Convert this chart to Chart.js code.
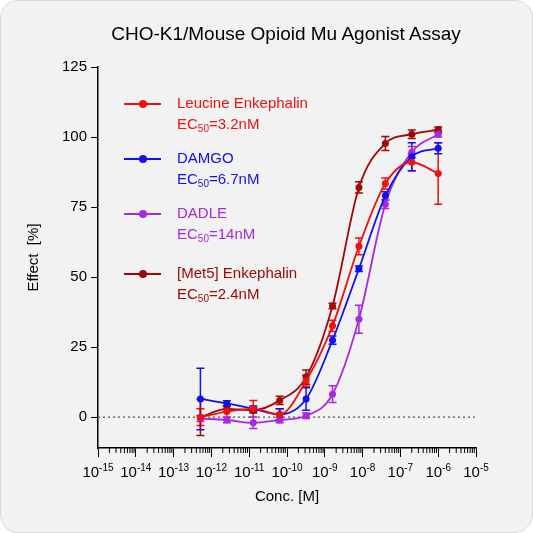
<!DOCTYPE html>
<html><head><meta charset="utf-8">
<script src="https://cdn.jsdelivr.net/npm/chart.js@4"></script>
<style>
body{margin:0;background:#fff;font-family:"Liberation Sans",Arial,sans-serif}
#card{position:absolute;left:0;top:0;width:531px;height:531px;border:1px solid #d8d8d8;border-radius:18px;background:#f2f2f2;overflow:hidden}
#title{position:absolute;left:60px;width:450px;top:22px;text-align:center;font-size:19px;color:#000}
.lg{position:absolute;left:123px;font-size:15px;line-height:21px}
.lg .mk{position:absolute;left:0;width:37px;height:2px}
.lg .mk i{position:absolute;left:15px;top:-3px;width:8px;height:8px;border-radius:50%}
.lg .tx{position:absolute;left:53px;top:-11px;white-space:nowrap}
sub{font-size:10px;vertical-align:-3px}
.xt{position:absolute;top:462px;font-size:15px;white-space:nowrap;transform:translateX(-50%)}
.xt sup{font-size:10px;vertical-align:6px;line-height:0}
</style></head><body>
<div id="card">
<canvas id="c" width="531" height="531"></canvas>
<div id="title">CHO-K1/Mouse Opioid Mu Agonist Assay</div>
<div id="legend"></div>
<div id="xticks"></div>
</div>
<script>
// 5-fold dilution series (M)
const conc = [5.12e-13, 2.56e-12, 1.28e-11, 6.4e-11, 3.2e-10, 1.6e-9, 8e-9, 4e-8, 2e-7, 1e-6];
const names = ["Leucine Enkephalin", "DAMGO", "DADLE", "[Met5] Enkephalin"];
const ec50Labels = ["3.2nM", "6.7nM", "14nM", "2.4nM"];
const colors = ["#f01010", "#1010f0", "#a828e0", "#a00808"];
const leu = [0, 2, 3, 1, 13, 32.6, 61, 83.4, 91, 87];
const leuErr = [3, 2, 3, 2, 2, 2, 3, 2, 3, 11];
const damgo = [6.5, 4.9, 3, 1, 6.5, 27.5, 53, 79, 93, 96];
const damgoErr = [11, 1, 1, 2, 4, 1.5, 1, 1.5, 5, 2];
const dadle = [-0.5, -1, -2, -1, 0.5, 8.2, 35, 76, 94.6, 101];
const dadleErr = [1, 1, 2, 1, 1, 3, 5, 1.5, 2, 1];
const met5 = [0, 3, 2.5, 6, 14.3, 39.7, 82, 97.7, 101, 102.6];
const met5Err = [6.5, 1, 1, 1.5, 2.5, 1, 2, 2.5, 1.5, 1];
const yTicks = [0, 25, 50, 75, 100, 125];
const xDecades = [-15, -14, -13, -12, -11, -10, -9, -8, -7, -6, -5];
const legendY = [102, 157, 212, 272];

const series = [leu, damgo, dadle, met5];
const errs = [leuErr, damgoErr, dadleErr, met5Err];
const logx = conc.map(Math.log10);

const lg = document.getElementById("legend");
names.forEach((n, i) => {
  const d = document.createElement("div");
  d.className = "lg"; d.style.top = legendY[i] + "px"; d.style.color = colors[i];
  d.innerHTML = `<div class="mk" style="background:${colors[i]}"><i style="background:${colors[i]}"></i></div>` +
    `<div class="tx">${n}<br>EC<sub>50</sub>=${ec50Labels[i]}</div>`;
  lg.appendChild(d);
});

const datasets = [];
series.forEach((s, i) => {
  datasets.push({
    data: s.map((v, k) => ({x: logx[k], y: v})),
    borderColor: colors[i], backgroundColor: colors[i], borderWidth: 1.8,
    pointRadius: 3.5, pointBorderWidth: 0, cubicInterpolationMode: "monotone",
    errs: errs[i]
  });
});

const extras = {
  id: "extras",
  beforeDatasetsDraw(chart) {
    const {ctx, scales: {x, y}} = chart;
    ctx.save();
    ctx.strokeStyle = "#555"; ctx.lineWidth = 1.2; ctx.setLineDash([2, 3]);
    ctx.beginPath(); ctx.moveTo(chart.chartArea.left, y.getPixelForValue(0));
    ctx.lineTo(x.getPixelForValue(-5), y.getPixelForValue(0)); ctx.stroke();
    ctx.setLineDash([]);
    ctx.strokeStyle = "#000"; ctx.lineWidth = 1;
    const y0 = x.top;
    for (let n = -15; n < -5; n++) for (let k = 2; k <= 9; k++) {
      const px = x.getPixelForValue(n + Math.log10(k));
      ctx.beginPath(); ctx.moveTo(px, y0); ctx.lineTo(px, y0 + 5); ctx.stroke();
    }
    chart.data.datasets.forEach(ds => {
      ctx.strokeStyle = ds.borderColor; ctx.lineWidth = 1.5;
      ds.data.forEach((p, k) => {
        const e = ds.errs[k], px = x.getPixelForValue(p.x);
        const a = y.getPixelForValue(p.y + e), b = y.getPixelForValue(p.y - e);
        ctx.beginPath(); ctx.moveTo(px, a); ctx.lineTo(px, b);
        ctx.moveTo(px - 4, a); ctx.lineTo(px + 4, a);
        ctx.moveTo(px - 4, b); ctx.lineTo(px + 4, b); ctx.stroke();
      });
    });
    ctx.restore();
  }
};

const chart = new Chart(document.getElementById("c"), {
  type: "line",
  data: {datasets},
  plugins: [extras],
  options: {
    responsive: false, animation: false,
    layout: {padding: {top: 66, right: 56, left: 22, bottom: 26}},
    plugins: {legend: {display: false}, tooltip: {enabled: false}},
    scales: {
      x: {
        type: "linear", min: -15, max: -5,
        afterBuildTicks: s => { s.ticks = xDecades.map(v => ({value: v})); },
        afterFit: s => { s.height = 58; },
        ticks: {display: false},
        grid: {drawOnChartArea: false, tickLength: 9, color: "#000"},
        border: {color: "#000", width: 1.5},
        title: {display: true, text: "Conc. [M]", color: "#000", font: {size: 15, family: "Liberation Sans"}, padding: 0}
      },
      y: {
        min: -11, max: 125,
        afterBuildTicks: s => { s.ticks = yTicks.map(v => ({value: v})); },
        afterFit: s => { s.width = 75; },
        ticks: {color: "#000", font: {size: 15, family: "Liberation Sans"}, padding: 4},
        grid: {drawOnChartArea: false, tickLength: 7, color: "#000"},
        border: {color: "#000", width: 1.5},
        title: {display: true, text: "Effect  [%]", color: "#000", font: {size: 15, family: "Liberation Sans"}, padding: 2}
      }
    }
  }
});

const xt = document.getElementById("xticks");
xDecades.forEach(n => {
  const d = document.createElement("div");
  d.className = "xt";
  d.style.left = chart.scales.x.getPixelForValue(n) + "px";
  d.innerHTML = `10<sup>${String(n).replace("-", "-")}</sup>`;
  xt.appendChild(d);
});
</script>
</body></html>
